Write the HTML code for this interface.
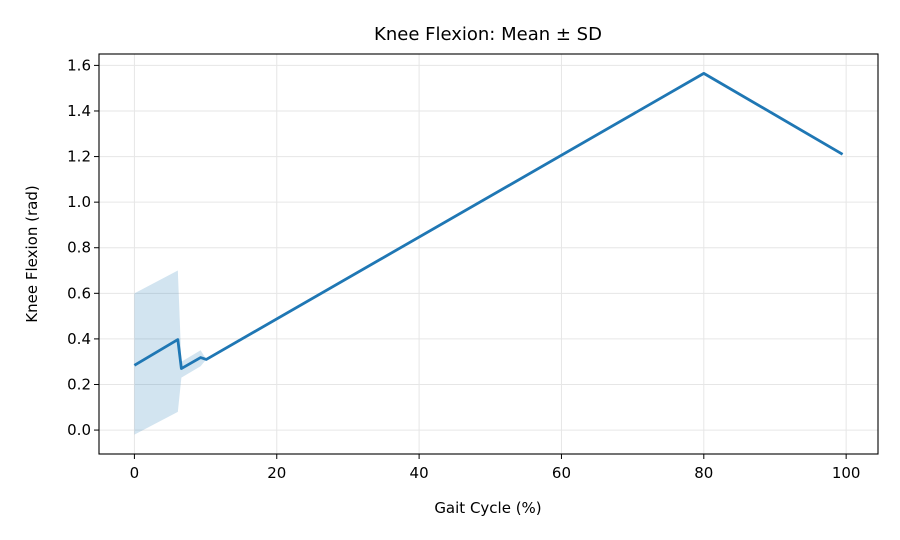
<!DOCTYPE html>
<html><head><meta charset="utf-8"><style>
html,body{margin:0;padding:0;background:#fff;}
svg{display:block;font-family:"DejaVu Sans","Liberation Sans",sans-serif;}
</style></head><body>
<svg id="chart" width="900" height="540" viewBox="0 0 900 540"></svg>
<script>
const xValues = [0, 6.1, 6.6, 9.3, 10.1, 80, 99.5];
const meanValues = [0.284, 0.397, 0.27, 0.318, 0.31, 1.565, 1.21];
const upperValues = [0.60, 0.70, 0.30, 0.35, 0.31, 1.565, 1.21];
const lowerValues = [-0.02, 0.08, 0.23, 0.28, 0.31, 1.565, 1.21];
const xTicks = [0, 20, 40, 60, 80, 100];
const yTicks = [0.0, 0.2, 0.4, 0.6, 0.8, 1.0, 1.2, 1.4, 1.6];

const L = 99, R = 878, T = 54, B = 454;
const xMin = -4.975, xMax = 104.475, yMin = -0.105, yMax = 1.65;
const sx = v => L + (v - xMin) / (xMax - xMin) * (R - L);
const sy = v => B - (v - yMin) / (yMax - yMin) * (B - T);
const NS = "http://www.w3.org/2000/svg";
const svg = document.getElementById("chart");
function mk(tag, attrs, parent) {
  const e = document.createElementNS(NS, tag);
  for (const k in attrs) e.setAttribute(k, attrs[k]);
  (parent || svg).appendChild(e);
  return e;
}
xTicks.forEach(t => {
  const g = mk("line", {x1: sx(t), x2: sx(t), y1: T, y2: B, stroke: "#e6e6e6", "stroke-width": 1});
  
  
});
yTicks.forEach(t => {
  const g = mk("line", {x1: L, x2: R, y1: sy(t), y2: sy(t), stroke: "#e6e6e6", "stroke-width": 1});
  
  
});
let d = xValues.map((x, i) => (i ? "L" : "M") + sx(x) + "," + sy(upperValues[i])).join(" ");
for (let i = xValues.length - 1; i >= 0; i--) d += " L" + sx(xValues[i]) + "," + sy(lowerValues[i]);
const band = mk("path", {d: d + " Z", fill: "#1f77b4", "fill-opacity": 0.2, stroke: "none"});


const line = mk("polyline", {points: xValues.map((x, i) => sx(x) + "," + sy(meanValues[i])).join(" "), fill: "none", stroke: "#1f77b4", "stroke-width": 2.8, "stroke-linejoin": "round"});


const frame = mk("rect", {x: L, y: T, width: R - L, height: B - T, fill: "none", stroke: "#000", "stroke-width": 1.1});


xTicks.forEach(t => {
  mk("line", {x1: sx(t), x2: sx(t), y1: B, y2: B + 5, stroke: "#000"});
  const tx = mk("text", {x: sx(t), y: B + 24, "text-anchor": "middle", "font-size": 15});
  tx.textContent = t;
  
  
});
yTicks.forEach(t => {
  mk("line", {x1: L - 5, x2: L, y1: sy(t), y2: sy(t), stroke: "#000"});
  const tx = mk("text", {x: L - 8, y: sy(t) + 5, "text-anchor": "end", "font-size": 15});
  tx.textContent = t.toFixed(1);
  
  
});
</script>
<svg style="position:absolute;left:0;top:0" width="900" height="540">
  <text x="488" y="40" text-anchor="middle" font-size="18" font-family="DejaVu Sans, Liberation Sans, sans-serif">Knee Flexion: Mean ± SD</text>
  <text x="488" y="513" text-anchor="middle" font-size="15" font-family="DejaVu Sans, Liberation Sans, sans-serif">Gait Cycle (%)</text>
  <text x="37" y="254" text-anchor="middle" font-size="15" font-family="DejaVu Sans, Liberation Sans, sans-serif" transform="rotate(-90 37 254)">Knee Flexion (rad)</text>
</svg>
</body></html>
